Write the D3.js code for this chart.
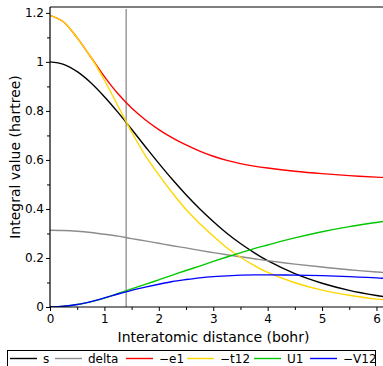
<!DOCTYPE html>
<html>
<head>
<meta charset="utf-8">
<script src="https://cdn.jsdelivr.net/npm/d3@7"></script>
<style>
  body { margin: 0; background: #fff; }
  text { font-family: "DejaVu Sans", sans-serif; }
</style>
</head>
<body>
<svg id="chart" width="383" height="366"></svg>
<script>
// Interatomic distance (bohr)
const distance = [0, 0.25, 0.5, 0.75, 1, 1.25, 1.5, 1.75, 2, 2.25, 2.5, 2.75, 3, 3.25, 3.5, 3.75, 4, 4.5, 5, 5.5, 6, 6.12];

// integral values (hartree)
const sVals     = [1.000, 0.990, 0.960, 0.915, 0.858, 0.794, 0.725, 0.655, 0.586, 0.520, 0.458, 0.401, 0.349, 0.301, 0.259, 0.222, 0.189, 0.136, 0.097, 0.068, 0.047, 0.043];
const deltaVals = [0.313, 0.312, 0.309, 0.304, 0.297, 0.289, 0.279, 0.270, 0.260, 0.250, 0.241, 0.231, 0.222, 0.213, 0.205, 0.197, 0.189, 0.175, 0.163, 0.152, 0.143, 0.141];
const e1Vals    = [1.190, 1.163, 1.098, 1.020, 0.940, 0.870, 0.812, 0.764, 0.724, 0.690, 0.661, 0.636, 0.615, 0.598, 0.585, 0.575, 0.567, 0.554, 0.544, 0.536, 0.530, 0.529];
const t12Vals   = [1.190, 1.163, 1.098, 1.020, 0.925, 0.820, 0.714, 0.619, 0.539, 0.465, 0.398, 0.341, 0.290, 0.242, 0.203, 0.170, 0.141, 0.099, 0.069, 0.048, 0.032, 0.030];
const u1Vals    = [0.000, 0.003, 0.010, 0.021, 0.036, 0.055, 0.074, 0.092, 0.111, 0.130, 0.149, 0.167, 0.186, 0.204, 0.221, 0.238, 0.253, 0.282, 0.307, 0.328, 0.345, 0.349];
const v12Vals   = [0.000, 0.003, 0.010, 0.022, 0.037, 0.053, 0.068, 0.081, 0.093, 0.104, 0.112, 0.119, 0.124, 0.127, 0.130, 0.131, 0.131, 0.130, 0.128, 0.124, 0.119, 0.117];

const seriesNames  = ['s', 'delta', '\u2212e1', '\u2212t12', 'U1', '\u2212V12'];
const seriesColors = ['#000000', '#8c8c8c', '#ff0000', '#ffd700', '#00c800', '#0000ff'];
const seriesVals   = [sVals, deltaVals, e1Vals, t12Vals, u1Vals, v12Vals];

const xTicks = [0, 1, 2, 3, 4, 5, 6];
const yTicks = [0, 0.2, 0.4, 0.6, 0.8, 1, 1.2];
const equilibrium = 1.4;

const margin = { top: 7, right: 0, bottom: 59, left: 50 };
const width = 383, height = 366;
const innerW = width - margin.left - margin.right;
const innerH = height - margin.top - margin.bottom;

const svg = d3.select('#chart');
const g = svg.append('g').attr('transform', `translate(${margin.left},${margin.top})`);

const x = d3.scaleLinear().domain([0, 6.12]).range([0, innerW]);
const y = d3.scaleLinear().domain([0, 1.224]).range([innerH, 0]);

g.append('clipPath').attr('id', 'clip')
  .append('rect').attr('width', innerW).attr('height', innerH);

// vertical marker at equilibrium distance
g.append('line')
  .attr('x1', x(equilibrium)).attr('x2', x(equilibrium))
  .attr('y1', 2).attr('y2', innerH)
  .attr('stroke', '#8c8c8c').attr('stroke-width', 1.3);

const line = d3.line()
  .x(d => x(d[0]))
  .y(d => y(d[1]))
  .curve(d3.curveCatmullRom.alpha(0.5));

const curves = g.append('g').attr('clip-path', 'url(#clip)');
seriesVals.forEach((vals, i) => {
  curves.append('path')
    .datum(distance.map((r, k) => [r, vals[k]]))
    .attr('fill', 'none')
    .attr('stroke', seriesColors[i])
    .attr('stroke-width', 1.4)
    .attr('d', line);
});

// axes
const xAxis = g.append('g').attr('transform', `translate(0,${innerH})`)
  .call(d3.axisBottom(x).tickValues(xTicks).tickFormat(d3.format('d')).tickSize(4).tickPadding(3));
g.append('g').attr('transform', `translate(0,${innerH})`)
  .call(d3.axisBottom(x).tickValues(d3.range(0.5, 6.1, 1)).tickFormat('').tickSize(3))
  .select('.domain').remove();

const yAxis = g.append('g')
  .call(d3.axisLeft(y).tickValues(yTicks).tickFormat(d => d === 0 || d === 1 ? d : d3.format('.1f')(d)).tickSize(4).tickPadding(2));
g.append('g')
  .call(d3.axisLeft(y).tickValues(d3.range(0.1, 1.21, 0.2)).tickFormat('').tickSize(3))
  .select('.domain').remove();

g.selectAll('.domain').attr('stroke', '#000').attr('stroke-width', 1.2);
g.selectAll('.tick line').attr('stroke', '#000');
g.selectAll('.tick text').attr('font-size', 12).attr('fill', '#000')
  .style('font-family', '"DejaVu Sans", sans-serif');
xAxis.select('.domain').attr('d', `M0,0H${innerW}`);
yAxis.select('.domain').attr('d', `M0,${innerH}V0`);

// top border
g.append('line').attr('x1', 0).attr('x2', innerW).attr('y1', 0).attr('y2', 0)
  .attr('stroke', '#000').attr('stroke-width', 1.2);

// axis titles
svg.append('text')
  .attr('x', margin.left + innerW / 2 - 3).attr('y', 342)
  .attr('text-anchor', 'middle').attr('font-size', 14)
  .text('Interatomic distance (bohr)');
svg.append('text')
  .attr('transform', `translate(20,${margin.top + innerH / 2}) rotate(-90)`)
  .attr('text-anchor', 'middle').attr('font-size', 14)
  .text('Integral value (hartree)');

// legend
const legendX = [10, 55, 126, 187, 254, 310];
const legend = svg.append('g');
legend.append('rect')
  .attr('x', 7.5).attr('y', 350.5).attr('width', 368).attr('height', 20)
  .attr('fill', 'none').attr('stroke', '#000').attr('stroke-width', 1);
seriesNames.forEach((name, i) => {
  legend.append('line')
    .attr('x1', legendX[i]).attr('x2', legendX[i] + 27)
    .attr('y1', 358.5).attr('y2', 358.5)
    .attr('stroke', seriesColors[i]).attr('stroke-width', 1.4);
  legend.append('text')
    .attr('x', legendX[i] + 33).attr('y', 363)
    .attr('font-size', 12)
    .text(name);
});
</script>
</body>
</html>
